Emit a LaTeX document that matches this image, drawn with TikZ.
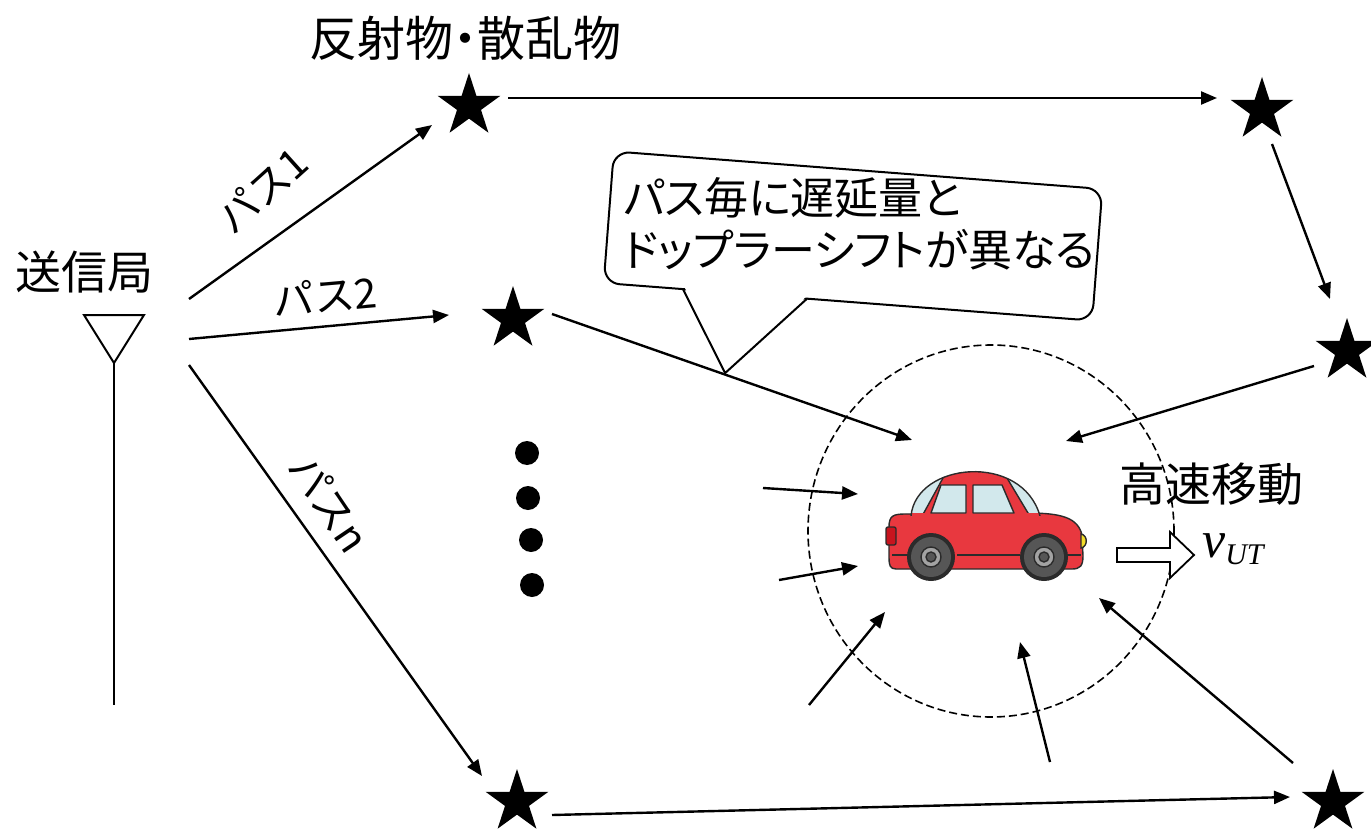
\documentclass[tikz,border=0pt]{standalone}
\usepackage{fontspec}
\setmainfont{Noto Sans CJK JP}
\newfontfamily\jpp{Noto Sans CJK JP}[RawFeature=+palt]
\newfontfamily\timesf{Liberation Serif}
\usetikzlibrary{shapes.geometric,arrows.meta}

\definecolor{carred}{HTML}{E8383F}
\definecolor{carline}{HTML}{2B2B2B}
\definecolor{glass}{HTML}{D2E8EC}
\definecolor{tyre}{HTML}{565656}
\definecolor{hub}{HTML}{A3A3A3}
\definecolor{tail}{HTML}{C8141E}
\definecolor{lamp}{HTML}{F2DC2A}

\begin{document}
\begin{tikzpicture}[x=1pt,y=-1pt,
  refl/.style={star, star points=5, star point ratio=2.618, minimum size=66pt, inner sep=0pt, fill=black},
  ray/.style={line width=2.4pt, -{Triangle[length=16pt,width=13pt]}},
  dotmark/.style={circle, fill=black, minimum size=24pt, inner sep=0pt},
  pathlbl/.style={inner sep=0pt, font=\fontsize{41pt}{48pt}\selectfont},
  bigtxt/.style={inner sep=0pt, font=\fontsize{46pt}{54pt}\selectfont},
  outl/.style={draw=carline, line width=1.4pt},
]
\useasboundingbox (0,0) rectangle (1371,832);

% ---- transmitter antenna
\draw[line width=2pt, line join=miter] (84,315) -- (144,315) -- (114,363) -- cycle;
\draw[line width=2.2pt] (114,363) -- (114,705);
\node[bigtxt] (txlabel) at (85,272) {送信局};

% ---- reflectors / scatterers
\node[inner sep=0pt, font=\jpp\fontsize{48pt}{54pt}\selectfont] (scat) at (465,38) {反射物・散乱物};
\node[refl] (s1) at (469,106) {};
\node[refl] (s2) at (1262,110) {};
\node[refl] (s3) at (1347,351) {};
\node[refl] (s4) at (513,319) {};
\node[refl] (s5) at (517,802) {};
\node[refl] (s6) at (1333,802) {};

\node[dotmark] (d1) at (527,453) {};
\node[dotmark] (d2) at (528,498) {};
\node[dotmark] (d3) at (531,540) {};
\node[dotmark] (d4) at (532,585) {};

% ---- callout
\begin{scope}[shift={(853,236)}, rotate=-4.4]
  \draw[line width=2pt, fill=white, rounded corners=16pt] (-245,-66) rectangle (245,66);
  \fill[white] (-164,64) -- (-117,146.5) -- (-42,64) -- cycle;
  \draw[line width=2pt, line join=miter] (-165.5,66) -- (-117,146.5) -- (-41,66);
  \node[anchor=west, align=left, inner sep=0pt,
        font=\jpp\fontsize{44pt}{52pt}\selectfont] (note) at (-230,5)
        {パス毎に遅延量と\\ドップラーシフトが異なる};
\end{scope}

% ---- end points of the rays
\coordinate (tx1) at (189,299);
\coordinate (tx2) at (189,339);
\coordinate (txn) at (189,365);
\coordinate (s1in) at (432,125);
\coordinate (s4in) at (449,315);
\coordinate (s5in) at (482,776);
\coordinate (s1out) at (508,98);
\coordinate (s2in) at (1217,98);
\coordinate (s2out) at (1272,144);
\coordinate (s3in) at (1330,299);
\coordinate (s3out) at (1314,366);
\coordinate (s4out) at (552,314);
\coordinate (s5out) at (552,815);
\coordinate (s6in) at (1290,797);
\coordinate (s6out) at (1293,763);
\coordinate (carA) at (912,440);
\coordinate (carB) at (1066,441);
\coordinate (carC) at (1099,598);
\coordinate (carD) at (858,494);
\coordinate (carE) at (858,566);
\coordinate (carF) at (885,612);
\coordinate (carG) at (1020,642);
\coordinate (fa) at (763,488);
\coordinate (fb) at (779,580);
\coordinate (fc) at (809,705);
\coordinate (fd) at (1050,762);

% ---- rays
\draw[ray] (tx1) -- (s1in);
\draw[ray] (tx2) -- (s4in);
\draw[ray] (txn) -- (s5in);
\draw[ray] (s1out) -- (s2in);
\draw[ray] (s2out) -- (s3in);
\draw[ray] (s3out) -- (carB);
\draw[ray] (s4out) -- (carA);
\draw[ray] (s5out) -- (s6in);
\draw[ray] (s6out) -- (carC);
\draw[ray] (fa) -- (carD);
\draw[ray] (fb) -- (carE);
\draw[ray] (fc) -- (carF);
\draw[ray] (fd) -- (carG);

\node[pathlbl, rotate=42] (l1) at (262,190) {パス1};
\node[pathlbl, rotate=5] (l2) at (325,296) {パス2};
\node[pathlbl, rotate=-56] (ln) at (330,503) {パスn};

% ---- dashed region around the terminal
\draw[line width=1.6pt, dash pattern=on 8pt off 4pt] (991,531) ellipse [x radius=183, y radius=186];

% ---- car
\filldraw[fill=carred, outl] (896,569) .. controls (890,569) and (889,565) .. (889,558) -- (889,527)
  .. controls (889,516) and (893,514) .. (905,514) -- (1028,513)
  .. controls (1062,513) and (1078,518) .. (1082,535) -- (1083,556)
  .. controls (1083,566) and (1080,569) .. (1072,569) -- cycle;
\fill[glass] (911,516) .. controls (916,462) and (1022,452) .. (1040,516) -- cycle;
\begin{scope}
  \clip (911,516) .. controls (916,462) and (1022,452) .. (1040,516) -- cycle;
  \fill[carred] (921,518) -- (943,478) -- (943,440) -- (1006,440) -- (1007,478) -- (1031,518) -- cycle;
  \draw[outl] (921,518) -- (943,478);
  \draw[outl] (1007,478) -- (1031,518);
\end{scope}
\fill[carred] (912,512.5) rectangle (1039,518);
\draw[outl] (911,516) .. controls (916,462) and (1022,452) .. (1040,516);
\filldraw[fill=glass, outl, line join=round] (931,513) -- (941,485) -- (966,485) -- (966,513) -- cycle;
\filldraw[fill=glass, outl, line join=round] (973,513) -- (973,485) -- (1002,485) -- (1014,513) -- cycle;
\draw[outl] (957,555) -- (1020,555);
\draw[outl] (892,555) -- (909,555);
\draw[outl] (1066,555) -- (1081,555);
\foreach \wx in {931,1044} {
  \fill[carline] (\wx,557) circle (24);
  \fill[tyre] (\wx,557) circle (20);
  \filldraw[fill=hub, outl] (\wx,557) circle (10);
  \filldraw[fill=tyre, outl] (\wx,557) circle (5);
}
\filldraw[fill=tail, outl, rounded corners=2pt] (886,527) rectangle (896,545);
\filldraw[fill=lamp, outl] (1081,534) .. controls (1088,535) and (1088,547) .. (1081,548) -- cycle;
\coordinate (car) at (986,525);

% ---- velocity
\node[bigtxt] (fast) at (1211,484) {高速移動};
\filldraw[fill=white, line width=1.8pt, line join=miter] (1117,548) -- (1170,548) -- (1170,532)
  -- (1194,555) -- (1170,578) -- (1170,562) -- (1117,562) -- cycle;
\node[anchor=base west, inner sep=0pt] (vut) at (1202,557)
  {\timesf\itshape\fontsize{52pt}{52pt}\selectfont v\raisebox{-7pt}{\fontsize{30pt}{30pt}\selectfont UT}};
\end{tikzpicture}
\end{document}
